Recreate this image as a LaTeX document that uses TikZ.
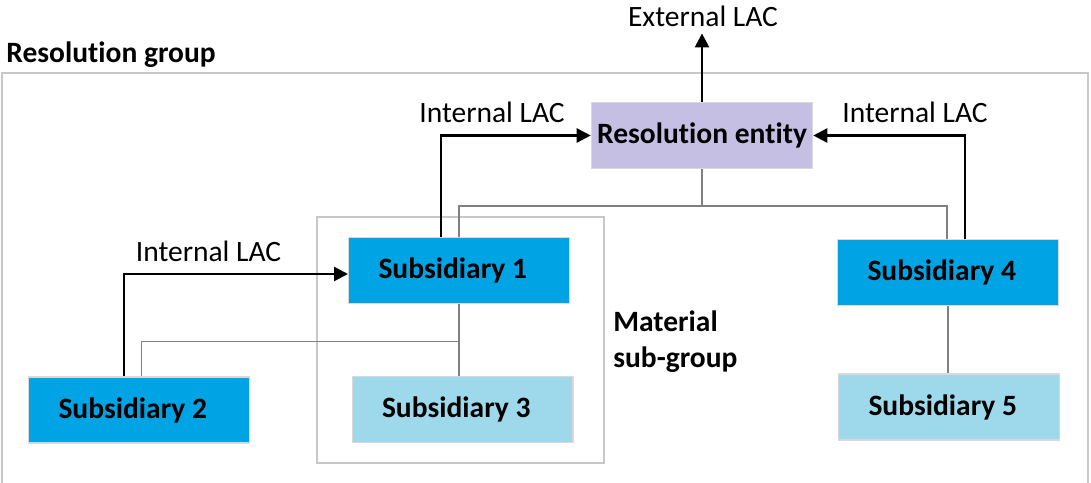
\documentclass[tikz,border=0pt]{standalone}
\usepackage{fontspec}
\setmainfont{Carlito}[Ligatures=NoCommon]
\usetikzlibrary{arrows.meta}
\definecolor{subblue}{HTML}{00A3E4}
\definecolor{sublight}{HTML}{9DD9EA}
\definecolor{entlilac}{HTML}{C6BFE4}
\definecolor{framegray}{HTML}{C8C8C8}
\begin{document}
\begin{tikzpicture}[x=0.02cm, y=-0.02cm, font=\fontsize{16.8}{21}\selectfont,
  bold/.style={font=\fontsize{16.8}{21}\selectfont\bfseries},
  box/.style={bold, draw=black!15, line width=0.6pt, minimum width=4.42cm, minimum height=1.32cm},
  subbox/.style={box, text width=3.22cm, inner xsep=0.6cm, align=left,
    execute at begin node={\spaceskip=0pt\xspaceskip=0pt\relax}},
  lac/.style={-{Triangle[length=0.28cm,width=0.28cm]}, line width=1.4pt},
  tree/.style={draw=black!50, line width=0.7pt},
  frame/.style={draw=framegray, line width=1.1pt}]
\useasboundingbox (0,0) rectangle (1091,483);
% group frames
\node[bold, anchor=base west, inner sep=0] (grp) at (6,63) {Resolution group};
\draw[frame] (2,490) -- (2,73) -- (1088,73) -- (1088,490);
\draw[frame] (317,217) rectangle (604,463);
\node[bold, anchor=north west, align=left, inner sep=0] (mat) at (613,310) {Material\\sub-group};
% entities
\node[box, fill=entlilac] (re) at (702,135.5) {Resolution entity};
\node[subbox, fill=subblue] (sub1) at (459,270.5) {Subsidiary 1};
\node[subbox, fill=subblue] (sub2) at (139,410) {Subsidiary 2};
\node[subbox, fill=sublight] (sub3) at (462.5,409.5) {Subsidiary 3};
\node[subbox, fill=subblue] (sub4) at (948,272.5) {Subsidiary 4};
\node[subbox, fill=sublight] (sub5) at (949,407) {Subsidiary 5};
% ownership lines
\draw[tree] (re.south) -- ++(0,37) coordinate (bus);
\draw[tree] (sub1.north) |- (bus) -| ([xshift=-0.02cm]sub4.north);
\path (sub1.south) -- (sub1.south |- sub3.north) coordinate[pos=0.52] (hub);
\draw[tree] (sub1.south) -- (sub1.south |- sub3.north);
\draw[tree] ([xshift=0.05cm]sub2.north) |- (hub);
\draw[tree] (sub4.south) -- (sub4.south |- sub5.north);
% LAC flows
\node[anchor=base] (ext) at (703,27) {External LAC};
\node[anchor=base] (lacA) at (492,122) {Internal LAC};
\node[anchor=base] (lacB) at (915,122) {Internal LAC};
\node[anchor=base] (lacC) at (208.5,261) {Internal LAC};
\draw[lac] (re.north) -- (re.north |- ext.south);
\draw[lac] ([xshift=-0.36cm]sub1.north) |- (re.west);
\draw[lac] ([xshift=0.34cm]sub4.north) |- (re.east);
\draw[lac] ([xshift=-0.3cm]sub2.north) |- ([yshift=-0.07cm]sub1.west);
\end{tikzpicture}
\end{document}
